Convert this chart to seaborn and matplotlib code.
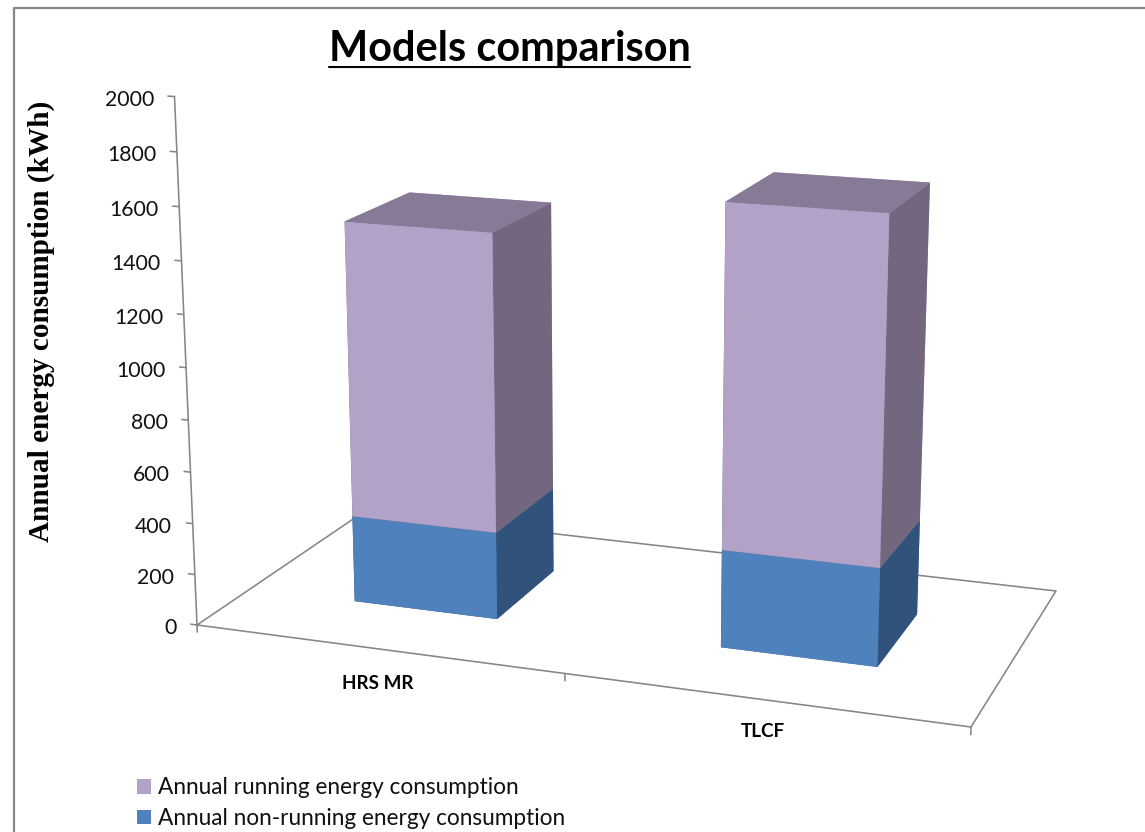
import numpy as np
import matplotlib
matplotlib.use("Agg")
import matplotlib.pyplot as plt
import seaborn as sns
from matplotlib.lines import Line2D
from matplotlib.patches import Patch

# ---- data -------------------------------------------------------------
categories = ["HRS MR", "TLCF"]
non_running = [343, 376]
running = [1147, 1289]
series_names = ["Annual running energy consumption", "Annual non-running energy consumption"]
z_ticks = [0, 200, 400, 600, 800, 1000, 1200, 1400, 1600, 1800, 2000]
title = "Models comparison"
z_label = "Annual energy consumption (kWh)"

sns.set_theme(style="white")
palette = sns.color_palette(["#B3A2C7", "#4F81BD"])
shade_running = {"top": "#877A96", "side": "#72677F"}
shade_blue = {"top": "#3F6797", "side": "#31537B"}
GREY = "#868686"
W, H_PX = 1145, 832

# ---- camera: floor corners and the vertical axis seen in the picture ---
floor = np.array([[197, 625], [971, 727], [1056, 591], [363.5, 512]], float)


def floor_homography(q):
    (x0, y0), (x1, y1), (x2, y2), (x3, y3) = q
    dx1, dx2, sx = x1 - x2, x3 - x2, x0 - x1 + x2 - x3
    dy1, dy2, sy = y1 - y2, y3 - y2, y0 - y1 + y2 - y3
    den = dx1 * dy2 - dx2 * dy1
    g = (sx * dy2 - dx2 * sy) / den
    h = (dx1 * sy - sx * dy1) / den
    return np.array([[x1 - x0 + g * x1, x3 - x0 + h * x3, x0],
                     [y1 - y0 + g * y1, y3 - y0 + h * y3, y0],
                     [g, h, 1.0]])


F = floor_homography(floor)
F[:, 0] /= 2  # two categories wide
y_bottom, y_mid, y_top = 625, 367.6, 96.5
lam = (y_bottom - y_mid) / (y_mid - y_top)
p3 = (lam * np.array([174.5, y_top, 1.0]) - np.array([197, 625, 1.0])) / 2000
M = np.array([
    [F[0, 0], F[0, 1], p3[0], F[0, 2]],
    [F[1, 0], F[1, 1], p3[1], F[1, 2]],
    [-0.2, 1.0, -0.0004, 0.0],      # depth, used only to order the faces
    [F[2, 0], F[2, 1], p3[2], F[2, 2]],
])


def fx(px):
    return px / W


def fy(py):
    return 1 - py / H_PX


def project(x, y, z):
    v = M @ np.array([x, y, z, 1.0])
    return v[0] / v[3], v[1] / v[3]


fig = plt.figure(figsize=(W / 100, H_PX / 100), dpi=100, facecolor="white")
ax = fig.add_axes([0, 0, 1, 1], projection="3d", computed_zorder=False, proj_type="ortho")
ax.set_axis_off()
ax.get_proj = lambda: M
ax.apply_aspect = lambda position=None: None

# ---- floor, axes and ticks ---------------------------------------------
n = len(categories)
lw = 1.15
ax.plot([0, n, n, 0, 0], [0, 0, 1, 1, 0], [0, 0, 0, 0, 0], color=GREY, lw=lw, zorder=1)
ax.plot([0, 0], [0, 0], [0, z_ticks[-1]], color=GREY, lw=lw, zorder=1)
for t in z_ticks:
    ax.plot([-0.018, 0], [0, 0], [t, t], color=GREY, lw=lw, zorder=1)
    px, py = project(0, 0, t)
    fig.text(fx(px - 20.5), fy(py + 3), str(t), ha="right", va="center", fontsize=15.3,
             family="Lato", color="#111111")
for i in range(n + 1):
    ax.plot([i, i], [0, 0], [0, -28], color=GREY, lw=lw, zorder=1)
label_drop = [138, 120]
for i, c in enumerate(categories):
    px, py = project(i + 0.5, 0, -label_drop[i])
    fig.text(fx(px), fy(py), c, ha="center", va="center", fontsize=13.6,
             family="Lato", fontweight="bold", color="black")

# ---- stacked 3D bars ----------------------------------------------------
for i in range(n):
    # face order of bar3d: bottom, top, front, back, left, right
    blue = palette[1]
    ax.bar3d(i + 0.3, 0.3, 0, 0.4, 0.4, non_running[i],
             color=[shade_blue["top"], shade_blue["top"], blue, blue, shade_blue["side"], shade_blue["side"]],
             shade=False, linewidth=0, zorder=2)
    lil = palette[0]
    ax.bar3d(i + 0.3, 0.3, non_running[i], 0.4, 0.4, running[i],
             color=[shade_running["top"], shade_running["top"], lil, lil, shade_running["side"], shade_running["side"]],
             shade=False, linewidth=0, zorder=3)

ax.viewLim.intervalx = (0, W)
ax.viewLim.intervaly = (H_PX, 0)

# ---- figure furniture ---------------------------------------------------
fig.add_artist(Line2D([fx(14), fx(14), fx(W)], [0, fy(8), fy(8)], color=GREY, lw=1.6))
fig.text(fx(509.5), fy(60.5), title, ha="center", va="baseline", fontsize=29.9,
         family="Lato", fontweight="bold", color="black")
fig.add_artist(Line2D([fx(329), fx(690)], [fy(66.5), fy(66.5)], color="black", lw=1.5))
fig.text(fx(41), fy(321.5), z_label, rotation=90, ha="center", va="center", fontsize=21.1,
         family="Liberation Serif", fontweight="bold", color="black")
handles = [Patch(facecolor=palette[0], edgecolor="none"), Patch(facecolor=palette[1], edgecolor="none")]
fig.legend(handles, series_names, loc="lower left", bbox_to_anchor=(fx(137), fy(829)),
           frameon=False, prop={"family": "Lato", "size": 16.3}, labelcolor="#111111",
           handlelength=0.62, handleheight=0.62, handletextpad=0.31, labelspacing=0.42,
           borderpad=0, borderaxespad=0)

fig.savefig("out.png", dpi=100)
